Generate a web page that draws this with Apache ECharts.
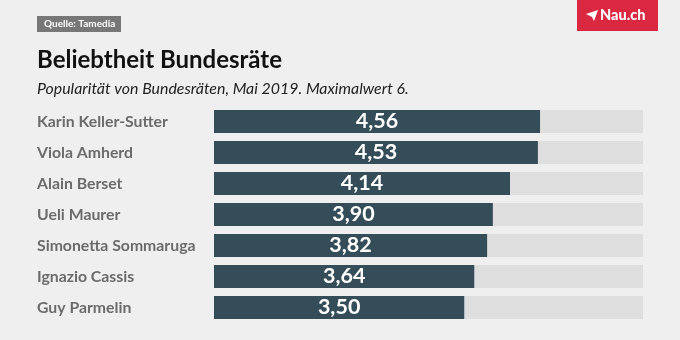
<!DOCTYPE html>
<html><head><meta charset="utf-8">
<script src="https://cdn.jsdelivr.net/npm/echarts@6/dist/echarts.min.js"></script>
<style>html,body{margin:0;padding:0;background:#efefef}#c{width:680px;height:340px}</style>
</head><body><div id="c"></div>
<script>
const names = ["Karin Keller-Sutter","Viola Amherd","Alain Berset","Ueli Maurer","Simonetta Sommaruga","Ignazio Cassis","Guy Parmelin"];
const values = [4.56,4.53,4.14,3.90,3.82,3.64,3.50];
const maxValue = 6;
const chart = echarts.init(document.getElementById('c'));
chart.setOption({
  backgroundColor:'#efefef',
  animation:false,
  textStyle:{fontFamily:'Lato'},
  grid:{left:214,right:37,top:106,bottom:17,containLabel:false},
  xAxis:{type:'value',min:0,max:maxValue,show:false},
  yAxis:{type:'category',data:names,inverse:true,axisLine:{show:false},axisTick:{show:false},
    axisLabel:{align:'left',margin:177,color:'#6b6b6b',fontSize:15.8,fontWeight:'bold',fontFamily:'Lato'}},
  series:[{type:'bar',data:values,barCategoryGap:'26%',
    itemStyle:{color:'#344d59'},
    showBackground:true,backgroundStyle:{color:'#dedede'},
    label:{show:true,position:'inside',color:'#ffffff',fontSize:21.5,fontWeight:'bold',fontFamily:'Lato',
      formatter:p=>p.value.toFixed(2).replace('.',',')}}],
  graphic:[
    {type:'rect',shape:{x:37,y:16,width:84,height:16},style:{fill:'#777777'}},
    {type:'text',x:44,y:24,style:{text:'Quelle: Tamedia',fill:'#ffffff',font:'bold 10px Lato',textVerticalAlign:'middle'}},
    {type:'rect',shape:{x:577,y:0,width:81,height:31},style:{fill:'#d9283f'}},
    {type:'polygon',shape:{points:[[586,14],[598,10],[594,21],[592,17]]},style:{fill:'#ffffff'}},
    {type:'text',x:600,y:15,style:{text:'Nau.ch',fill:'#ffffff',font:'900 14.5px Lato',textVerticalAlign:'middle'}},
    {type:'text',x:37,y:60,style:{text:'Beliebtheit Bundesräte',fill:'#111111',font:'bold 24px Lato',textVerticalAlign:'middle'}},
    {type:'text',x:37,y:89,style:{text:'Popularität von Bundesräten, Mai 2019. Maximalwert 6.',fill:'#222222',font:'italic 15.9px Lato',textVerticalAlign:'middle'}}
  ]
});
</script></body></html>
